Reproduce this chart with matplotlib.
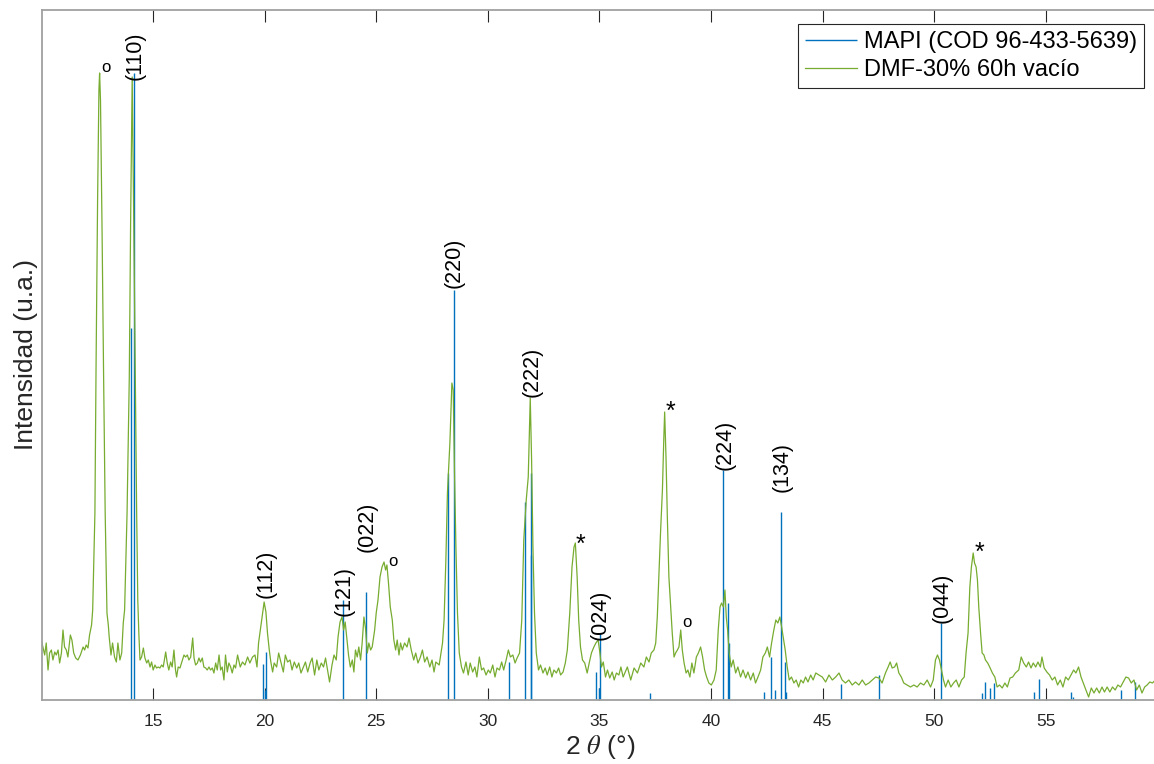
import matplotlib.pyplot as plt

plt.rcParams['font.family'] = ['Liberation Sans', 'DejaVu Sans']
plt.rcParams['mathtext.fontset'] = 'stix'

# MAPI reference pattern (COD 96-433-5639): 2theta and relative height
mapi_tt = [14.01, 14.13, 19.95, 20.00, 20.06, 23.53, 24.53, 28.22, 28.50, 30.96,
           31.68, 31.92, 31.95, 34.84, 35.00, 35.02, 37.26, 40.53, 40.75, 40.78,
           42.36, 42.69, 42.88, 43.14, 43.29, 43.34, 45.83, 47.51, 50.30, 52.14,
           52.29, 52.51, 52.69, 54.45, 54.67, 56.14, 56.20, 58.36, 59.00]
mapi_i = [372, 627, 36, 10, 48, 100, 108, 227, 410, 38,
          198, 145, 227, 28, 12, 67, 7, 230, 97, 57,
          8, 43, 10, 188, 38, 8, 16, 25, 77, 7,
          18, 12, 17, 8, 21, 8, 3, 10, 18]

# measured pattern DMF-30% 60h vacio
dmf_tt = [10.00, 10.07, 10.15, 10.22, 10.30, 10.37, 10.45, 10.52, 10.60, 10.67,
          10.75, 10.82, 10.90, 10.97, 11.04, 11.12, 11.19, 11.30, 11.37, 11.45,
          11.54, 11.64, 11.75, 11.87, 11.94, 12.01, 12.09, 12.16, 12.25, 12.30,
          12.40, 12.45, 12.52, 12.58, 12.61, 12.65, 12.72, 12.79, 12.86, 12.94,
          13.00, 13.04, 13.12, 13.19, 13.28, 13.36, 13.43, 13.52, 13.60, 13.67,
          13.73, 13.84, 13.94, 14.00, 14.07, 14.13, 14.21, 14.27, 14.32, 14.37,
          14.42, 14.49, 14.57, 14.64, 14.72, 14.79, 14.87, 14.94, 15.01, 15.09,
          15.16, 15.24, 15.31, 15.39, 15.46, 15.57, 15.64, 15.71, 15.79, 15.86,
          15.94, 16.01, 16.06, 16.13, 16.21, 16.28, 16.39, 16.46, 16.54, 16.61,
          16.69, 16.78, 16.84, 16.91, 16.99, 17.06, 17.13, 17.21, 17.28, 17.36,
          17.43, 17.51, 17.58, 17.66, 17.73, 17.81, 17.88, 17.96, 18.03, 18.10,
          18.18, 18.25, 18.33, 18.40, 18.48, 18.55, 18.63, 18.70,
          18.79, 18.91, 19.01, 19.12, 19.24, 19.34, 19.46, 19.57, 19.66, 19.73,
          19.81, 19.90, 19.98, 20.06, 20.13, 20.21, 20.28, 20.36, 20.43, 20.54,
          20.63, 20.73, 20.84, 20.93, 21.03, 21.14, 21.23, 21.33, 21.44, 21.53,
          21.63, 21.74, 21.83, 21.93, 22.04, 22.13, 22.24, 22.34, 22.43, 22.54,
          22.64, 22.73, 22.84, 22.91, 23.02, 23.11, 23.21, 23.29, 23.38, 23.47,
          23.54, 23.61, 23.69, 23.76, 23.84, 23.93, 24.00, 24.07, 24.15, 24.22,
          24.30, 24.37, 24.45, 24.52, 24.60, 24.67, 24.75, 24.82, 24.93, 25.00,
          25.08, 25.17, 25.26, 25.35, 25.42, 25.48, 25.55, 25.63, 25.72, 25.79,
          25.87, 25.94, 26.02, 26.09, 26.17, 26.27, 26.38, 26.47, 26.57, 26.68,
          26.77, 26.87, 26.98, 27.07, 27.17, 27.28, 27.40, 27.50, 27.59,
          27.67, 27.82, 27.97, 28.04, 28.12, 28.19, 28.30, 28.39, 28.45, 28.51,
          28.57, 28.64, 28.72, 28.82, 28.91, 29.02, 29.12, 29.21, 29.32, 29.42,
          29.51, 29.62, 29.72, 29.81, 29.92, 30.02, 30.11, 30.22, 30.32, 30.41,
          30.52, 30.62, 30.71, 30.82, 30.92, 31.01, 31.12, 31.22, 31.31, 31.42,
          31.52, 31.61, 31.72, 31.81, 31.90, 31.96, 32.02, 32.09, 32.17, 32.27,
          32.36, 32.47, 32.57, 32.66, 32.77, 32.87, 32.96, 33.07, 33.17, 33.26,
          33.37, 33.47, 33.56, 33.67, 33.77, 33.86, 33.92, 34.00, 34.07, 34.15,
          34.24, 34.34, 34.45, 34.54, 34.64, 34.75, 34.84, 34.94, 35.02, 35.09,
          35.17, 35.27, 35.36, 35.46, 35.57, 35.66, 35.76, 35.87, 35.96, 36.06,
          36.25, 36.40, 36.55, 36.70, 36.85, 36.99, 37.10, 37.22, 37.32, 37.44,
          37.52, 37.59, 37.67, 37.74, 37.82, 37.88, 37.92, 37.98, 38.04, 38.11,
          38.19, 38.26, 38.34, 38.41, 38.49, 38.56, 38.64, 38.71, 38.79, 38.88,
          38.96, 39.05, 39.14, 39.23, 39.34, 39.43, 39.53, 39.62, 39.71, 39.80,
          39.90, 40.01, 40.13, 40.23, 40.32, 40.40, 40.47, 40.55, 40.62, 40.68,
          40.74, 40.81, 40.90, 40.99, 41.10, 41.20, 41.32, 41.43, 41.55, 41.65,
          41.77, 41.89, 41.99, 42.10, 42.22, 42.32, 42.43, 42.52, 42.62, 42.71,
          42.81, 42.90, 42.99, 43.08, 43.16, 43.23, 43.32, 43.41, 43.50, 43.60,
          43.71, 43.81, 43.92, 44.02, 44.13, 44.23, 44.34, 44.46, 44.57, 44.69,
          44.83, 44.98, 45.13, 45.28, 45.43, 45.58, 45.73, 45.87, 46.02, 46.17,
          46.32, 46.47, 46.62, 46.77, 46.92, 47.07, 47.22, 47.37, 47.52, 47.66,
          47.81, 47.93, 48.02, 48.11, 48.22, 48.31, 48.41, 48.52, 48.63, 48.78,
          48.93, 49.08, 49.23, 49.38, 49.53, 49.68, 49.83, 49.95, 50.05, 50.14,
          50.23, 50.32, 50.41, 50.50, 50.62, 50.74, 50.86, 50.98, 51.10, 51.22,
          51.34, 51.42, 51.51, 51.59, 51.66, 51.74, 51.80, 51.87, 51.93, 51.99,
          52.07, 52.14, 52.22, 52.29, 52.39, 52.50, 52.60, 52.71, 52.81, 52.92,
          53.04, 53.16, 53.27, 53.39, 53.51, 53.63, 53.78, 53.89, 54.00, 54.12,
          54.22, 54.33, 54.43, 54.54, 54.64, 54.75, 54.82, 54.92, 55.04, 55.16,
          55.28, 55.40, 55.52, 55.64, 55.76, 55.88, 56.00, 56.12, 56.24, 56.34,
          56.46, 56.57, 56.67, 56.79, 56.91, 57.03, 57.15, 57.27, 57.39, 57.51,
          57.62, 57.74, 57.86, 57.98, 58.10, 58.22, 58.34, 58.46, 58.58, 58.70,
          58.82, 58.94, 59.06, 59.18, 59.30, 59.42, 59.53, 59.65, 59.77, 59.90]
dmf_i = [60, 53, 45, 57, 30, 47, 50, 40, 48, 45,
         50, 37, 47, 70, 53, 50, 43, 65, 60, 47,
         42, 40, 45, 53, 50, 55, 52, 65, 75, 90,
         187, 330, 500, 610, 627, 600, 470, 323, 187, 87,
         75, 63, 45, 57, 43, 38, 57, 40, 47, 77,
         90, 187, 323, 480, 623, 500, 323, 187, 100, 65,
         40, 43, 52, 42, 37, 40, 33, 38, 30, 35,
         32, 33, 32, 35, 33, 48, 37, 30, 38, 33,
         50, 30, 23, 33, 32, 37, 45, 43, 45, 40,
         43, 62, 42, 35, 37, 42, 38, 42, 33, 32,
         30, 33, 30, 32, 27, 37, 30, 45, 30, 33,
         20, 45, 28, 37, 33, 27, 35, 32,
         45, 33, 38, 35, 43, 37, 43, 45, 33, 57,
         70, 85, 98, 88, 67, 50, 38, 28, 37, 33,
         47, 38, 28, 45, 38, 40, 30, 38, 32, 37,
         27, 33, 38, 28, 37, 42, 25, 40, 30, 37,
         33, 42, 27, 18, 35, 45, 40, 63, 78, 83,
         70, 78, 60, 45, 33, 40, 28, 50, 43, 53,
         40, 57, 83, 72, 47, 57, 50, 53, 70, 87,
         100, 123, 133, 138, 130, 135, 117, 93, 80, 60,
         50, 60, 45, 57, 50, 57, 53, 62, 50, 40,
         47, 37, 43, 50, 38, 43, 33, 40, 28,
         38, 35, 57, 80, 140, 207, 257, 317, 310, 223,
         153, 87, 47, 33, 27, 38, 25, 37, 28, 33,
         23, 43, 30, 32, 25, 30, 27, 35, 23, 32,
         30, 38, 30, 40, 50, 43, 45, 37, 42, 47,
         80, 160, 200, 223, 302, 240, 153, 87, 47, 30,
         35, 27, 32, 25, 33, 23, 30, 27, 32, 25,
         28, 37, 50, 87, 133, 153, 157, 123, 80, 53,
         40, 37, 27, 37, 47, 53, 57, 60, 47, 33,
         38, 23, 30, 22, 28, 20, 27, 25, 33, 23,
         33, 20, 32, 27, 37, 33, 43, 38, 47, 50,
         57, 83, 130, 170, 210, 260, 288, 243, 183, 123,
         93, 67, 43, 47, 50, 53, 70, 50, 37, 27,
         30, 23, 37, 27, 43, 47, 53, 43, 30, 23,
         17, 15, 20, 30, 70, 93, 97, 93, 110, 83,
         70, 47, 33, 40, 27, 33, 23, 30, 22, 28,
         20, 27, 17, 23, 30, 43, 47, 53, 43, 57,
         70, 80, 77, 83, 73, 63, 50, 33, 20, 23,
         17, 20, 13, 20, 17, 23, 18, 25, 20, 27,
         25, 23, 18, 25, 20, 23, 27, 20, 17, 20,
         15, 18, 15, 20, 15, 17, 20, 23, 22, 17,
         27, 33, 38, 32, 33, 37, 27, 23, 17, 15,
         13, 15, 13, 17, 15, 20, 13, 20, 40, 45,
         40, 30, 20, 13, 20, 13, 17, 20, 13, 20,
         23, 47, 67, 113, 133, 147, 137, 133, 120, 93,
         67, 47, 45, 40, 37, 32, 27, 23, 13, 15,
         12, 17, 13, 22, 23, 27, 30, 43, 37, 33,
         38, 32, 37, 33, 38, 33, 43, 32, 28, 25,
         20, 23, 15, 20, 13, 23, 20, 25, 30, 27,
         33, 23, 17, 10, 3, 12, 7, 12, 7, 13,
         8, 13, 8, 13, 10, 15, 13, 18, 23, 22,
         17, 20, 10, 15, 7, 13, 15, 18, 17, 20]

# Miller index labels (text, 2theta, height of label base)
hkl_txt = ['(110)', '(112)', '(121)', '(022)', '(220)', '(222)', '(024)', '(224)', '(134)', '(044)']
hkl_tt = [14.21, 20.06, 23.56, 24.60, 28.49, 31.98, 35.02, 40.65, 43.18, 50.34]
hkl_y = [620, 102, 84, 148, 412, 303, 60, 230, 208, 77]

# secondary phase marks
mark_txt = ['o', 'o', '*', '*', 'o', '*']
mark_tt = [12.91, 25.77, 34.16, 38.19, 38.90, 52.02]
mark_y = [628, 134, 148, 281, 73, 140]
mark_fs = [12, 12, 18, 18, 12, 18]

fig = plt.figure(figsize=(11.54, 7.64), dpi=100)
ax = fig.add_axes([42 / 1154, 1 - 700 / 764, 1115.6 / 1154, 690 / 764])

ax.vlines(mapi_tt, 0, mapi_i, color='#0072BD', lw=1.0, label='MAPI (COD 96-433-5639)')
ax.plot(dmf_tt, dmf_i, color='#77AC30', lw=0.9, label='DMF-30% 60h vacío')

for t, x, y in zip(hkl_txt, hkl_tt, hkl_y):
    ax.text(x, y, t, rotation=90, ha='center', va='bottom', fontsize=15.5, color='black')
for t, x, y, fs in zip(mark_txt, mark_tt, mark_y, mark_fs):
    ax.text(x, y, t, ha='center', va='baseline', fontsize=fs, color='black')

ax.set_xlim(10.03, 60)
ax.set_ylim(0, 690)
ax.set_xticks([15, 20, 25, 30, 35, 40, 45, 50, 55])
ax.set_yticks([])
ax.tick_params(axis='x', direction='in', length=8.5, width=0.8, color='#262626',
               labelsize=12.5, labelcolor='#262626', top=True, pad=10)
for s in ax.spines.values():
    s.set_color('#a0a0a0')
    s.set_linewidth(1.3)

ax.set_xlabel('2 $\\theta$ (°)', fontsize=19, color='#262626', labelpad=3)
ax.set_ylabel('Intensidad (u.a.)', fontsize=19, color='#262626', labelpad=3)

leg = ax.legend(loc='upper right', bbox_to_anchor=(1144 / 1154, 1 - 24 / 764),
                bbox_transform=fig.transFigure, borderaxespad=0, fontsize=17,
                fancybox=False, framealpha=1, edgecolor='#262626',
                handlelength=2.2, handletextpad=0.3, labelspacing=0.25,
                borderpad=0.3)
leg.get_frame().set_linewidth(0.8)

fig.savefig('out.png', dpi=100)
